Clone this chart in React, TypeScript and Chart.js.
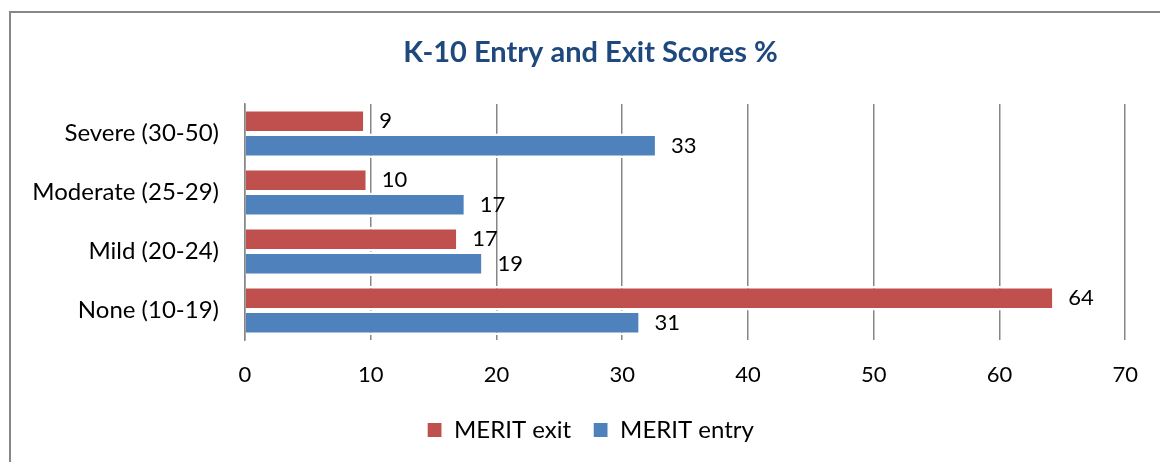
import React, { useEffect, useRef } from "react";
import { Chart, registerables } from "chart.js";

Chart.register(...registerables);

const categories = ["Severe (30-50)", "Moderate (25-29)", "Mild (20-24)", "None (10-19)"];
const exitValues = [9.4, 9.6, 16.8, 64.2];
const entryValues = [32.6, 17.4, 18.8, 31.3];
const xTicks = [0, 10, 20, 30, 40, 50, 60, 70];
const seriesNames = ["MERIT exit", "MERIT entry"];
const titleText = "K-10 Entry and Exit Scores %";

const FONT = "Lato, 'Noto Sans', sans-serif";

const valueLabels = {
  id: "valueLabels",
  afterLayout(chart: any) {
    // let the long category labels extend into the left margin without clipping
    if (chart.scales.y) chart.scales.y.left = 0;
  },
  afterDatasetsDraw(chart: any) {
    const ctx = chart.ctx;
    ctx.save();
    ctx.font = `22px ${FONT}`;
    ctx.fillStyle = "#000";
    ctx.textAlign = "left";
    ctx.textBaseline = "middle";
    chart.data.datasets.forEach((ds: any, di: number) => {
      const meta = chart.getDatasetMeta(di);
      meta.data.forEach((el: any, i: number) => {
        const v = ds.data[i];
        ctx.fillText(String(Math.round(v)), el.x + 16, el.y);
      });
    });
    ctx.restore();
  },
};

export default function App() {
  const ref = useRef<HTMLCanvasElement>(null);
  useEffect(() => {
    if (!ref.current) return;
    const chart = new Chart(ref.current, {
      type: "bar",
      data: {
        labels: categories,
        datasets: [
          {
            label: seriesNames[0],
            data: exitValues,
            backgroundColor: "#C0504D",
            borderColor: "#ffffff",
            borderWidth: { top: 2.4, bottom: 2.4, left: 0, right: 0 },
            borderSkipped: false,
            categoryPercentage: 0.83,
            barPercentage: 1,
          },
          {
            label: seriesNames[1],
            data: entryValues,
            backgroundColor: "#4F81BD",
            borderColor: "#ffffff",
            borderWidth: { top: 2.4, bottom: 2.4, left: 0, right: 0 },
            borderSkipped: false,
            categoryPercentage: 0.83,
            barPercentage: 1,
          },
        ],
      },
      options: {
        indexAxis: "y",
        animation: false,
        responsive: false,
        layout: { padding: { left: 54, right: 33, top: 0, bottom: 10 } },
        plugins: {
          title: {
            display: true,
            text: titleText,
            color: "#1F497D",
            font: { family: FONT, size: 29, weight: "bold" },
            padding: { top: 35.6, bottom: 33.6 },
          },
          legend: {
            position: "bottom",
            labels: {
              color: "#000",
              font: { family: FONT, size: 24 },
              boxWidth: 15,
              boxHeight: 15,
              padding: 22,
            },
          },
          tooltip: { enabled: false },
        },
        scales: {
          x: {
            min: 0,
            max: 70,
            afterBuildTicks(scale: any) {
              scale.ticks = xTicks.map((v) => ({ value: v }));
            },
            grid: { display: true, drawTicks: false, color: "#868686", lineWidth: 1.5 },
            border: { display: false },
            ticks: { color: "#000", font: { family: FONT, size: 22 }, padding: 22 },
            afterFit(scale: any) {
              scale.height = 56;
            },
          },
          y: {
            grid: { display: false, drawTicks: false },
            border: { display: true, color: "#868686", width: 1.5 },
            ticks: { color: "#000", font: { family: FONT, size: 24 }, padding: 26 },
            afterFit(scale: any) {
              scale.width = 191;
            },
          },
        },
      },
      plugins: [valueLabels],
    });
    return () => chart.destroy();
  }, []);
  return (
    <div style={{ position: "fixed", left: 0, top: 0, width: 1160, height: 462, overflow: "hidden", background: "#fff" }}>
      <div
        style={{
          position: "absolute",
          left: 9,
          top: 11,
          width: 1300,
          height: 600,
          border: "2px solid #878787",
          boxSizing: "border-box",
        }}
      />
      <canvas ref={ref} width={1160} height={462} style={{ position: "absolute", left: 0, top: 0 }} />
    </div>
  );
}
